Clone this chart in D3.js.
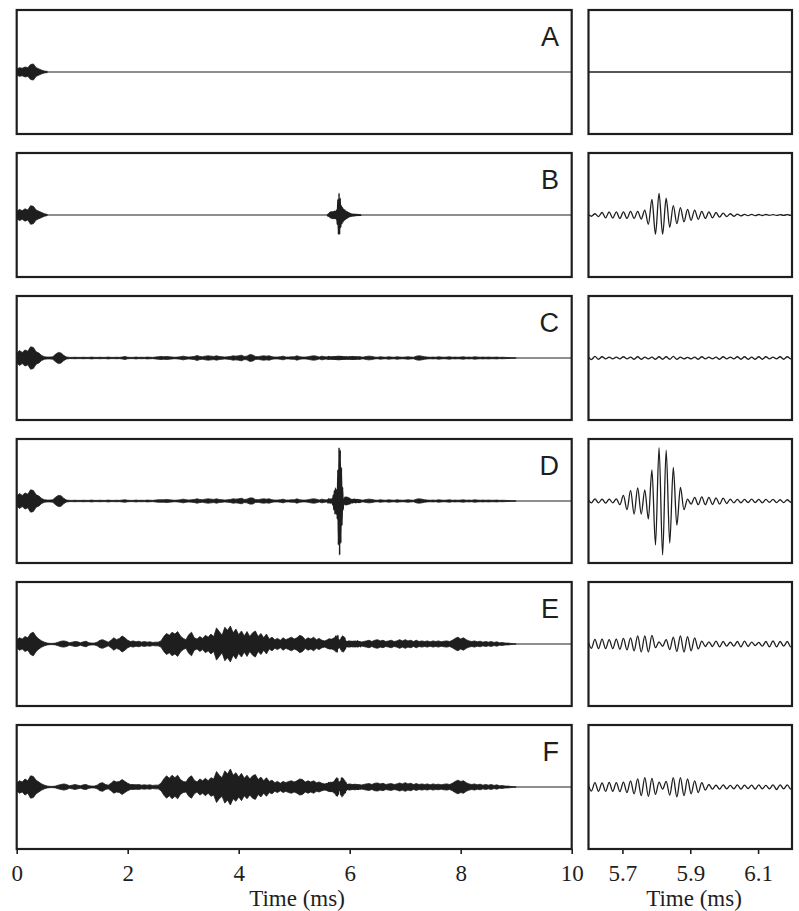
<!DOCTYPE html>
<html>
<head>
<meta charset="utf-8">
<script src="https://cdn.jsdelivr.net/npm/d3@7"></script>
<style>
  body { margin: 0; background: #fff; }
</style>
</head>
<body>
<script>
// panel letters and axis ticks
var panelNames = ['A', 'B', 'C', 'D', 'E', 'F'];
var leftTicks = [0, 2, 4, 6, 8, 10];
var rightTicks = [5.7, 5.9, 6.1];

// envelope amplitude of the full record, one value every 0.05 ms from t = 0
var envStep = 0.05;
var envA = [0.05, 0.07, 0.06, 0.08, 0.07, 0.12, 0.13, 0.07, 0.05, 0.03, 0.015, 0.01];
var envB = [0.06, 0.09, 0.07, 0.10, 0.08, 0.15, 0.14, 0.08, 0.06, 0.04, 0.02, 0.01];
var envC = [
  0.08, 0.12, 0.09, 0.13, 0.11, 0.18, 0.17, 0.10, 0.08, 0.04,
  0.02, 0.015, 0.015, 0.02, 0.06, 0.09, 0.08, 0.04, 0.015, 0.01,
  0.01, 0.012, 0.01, 0.01, 0.012, 0.01, 0.01, 0.015, 0.01, 0.01,
  0.012, 0.01, 0.01, 0.015, 0.01, 0.01, 0.012, 0.01, 0.015, 0.025,
  0.012, 0.01, 0.01, 0.015, 0.01, 0.012, 0.01, 0.015, 0.012, 0.01,
  0.015, 0.02, 0.025, 0.02, 0.025, 0.02, 0.015, 0.012, 0.015, 0.02,
  0.03, 0.02, 0.015, 0.02, 0.025, 0.04, 0.025, 0.02, 0.03, 0.035,
  0.03, 0.025, 0.035, 0.025, 0.02, 0.015, 0.02, 0.025, 0.035, 0.03,
  0.035, 0.045, 0.025, 0.03, 0.055, 0.05, 0.025, 0.02, 0.03, 0.035,
  0.03, 0.035, 0.02, 0.015, 0.015, 0.02, 0.03, 0.015, 0.015, 0.02,
  0.02, 0.035, 0.02, 0.015, 0.015, 0.02, 0.03, 0.035, 0.03, 0.015,
  0.03, 0.02, 0.015, 0.015, 0.02, 0.025, 0.03, 0.025, 0.02, 0.015,
  0.015, 0.025, 0.015, 0.012, 0.015, 0.015, 0.025, 0.03, 0.025, 0.015,
  0.012, 0.02, 0.015, 0.012, 0.02, 0.015, 0.012, 0.02, 0.015, 0.012,
  0.015, 0.02, 0.015, 0.012, 0.03, 0.035, 0.03, 0.02, 0.015, 0.012,
  0.015, 0.012, 0.02, 0.015, 0.012, 0.015, 0.02, 0.012, 0.015, 0.012,
  0.015, 0.02, 0.012, 0.015, 0.012, 0.02, 0.015, 0.012, 0.015, 0.012,
  0.015, 0.012, 0.012, 0.015, 0.01, 0.012, 0.01, 0.008, 0.006, 0.004,
  0
];
var envD = [
  0.08, 0.12, 0.09, 0.13, 0.11, 0.18, 0.17, 0.10, 0.08, 0.04,
  0.02, 0.015, 0.015, 0.02, 0.06, 0.09, 0.085, 0.04, 0.015, 0.01,
  0.01, 0.012, 0.01, 0.01, 0.012, 0.01, 0.01, 0.015, 0.01, 0.01,
  0.012, 0.01, 0.01, 0.015, 0.01, 0.01, 0.012, 0.01, 0.015, 0.02,
  0.012, 0.01, 0.01, 0.015, 0.01, 0.012, 0.01, 0.015, 0.012, 0.01,
  0.015, 0.02, 0.02, 0.02, 0.025, 0.02, 0.015, 0.012, 0.015, 0.02,
  0.03, 0.02, 0.015, 0.02, 0.025, 0.035, 0.025, 0.02, 0.03, 0.035,
  0.03, 0.025, 0.035, 0.025, 0.02, 0.015, 0.02, 0.025, 0.035, 0.03,
  0.035, 0.045, 0.025, 0.03, 0.05, 0.05, 0.025, 0.02, 0.03, 0.035,
  0.03, 0.035, 0.02, 0.015, 0.015, 0.02, 0.03, 0.015, 0.015, 0.02,
  0.02, 0.035, 0.02, 0.015, 0.015, 0.02, 0.03, 0.035, 0.03, 0.015,
  0.03, 0.02, 0.015, 0.015, 0.02, 0.025, 0.03, 0.025, 0.02, 0.015,
  0.015, 0.025, 0.015, 0.012, 0.015, 0.015, 0.025, 0.03, 0.025, 0.015,
  0.012, 0.02, 0.015, 0.012, 0.02, 0.015, 0.012, 0.02, 0.015, 0.012,
  0.015, 0.02, 0.015, 0.012, 0.03, 0.035, 0.03, 0.02, 0.015, 0.012,
  0.015, 0.012, 0.02, 0.015, 0.012, 0.015, 0.02, 0.012, 0.015, 0.012,
  0.015, 0.02, 0.012, 0.015, 0.012, 0.02, 0.015, 0.012, 0.015, 0.012,
  0.015, 0.012, 0.012, 0.015, 0.01, 0.012, 0.01, 0.008, 0.006, 0.004,
  0
];
var envE = [
  0.06, 0.10, 0.08, 0.12, 0.10, 0.17, 0.19, 0.12, 0.08, 0.05,
  0.03, 0.015, 0.01, 0.01, 0.015, 0.03, 0.045, 0.05, 0.04, 0.02,
  0.03, 0.04, 0.035, 0.02, 0.035, 0.045, 0.02, 0.015, 0.015, 0.03,
  0.06, 0.07, 0.05, 0.03, 0.06, 0.10, 0.07, 0.09, 0.13, 0.10,
  0.06, 0.04, 0.05, 0.035, 0.045, 0.03, 0.04, 0.03, 0.035, 0.025,
  0.03, 0.03, 0.05, 0.12, 0.17, 0.14, 0.19, 0.16, 0.20, 0.13,
  0.09, 0.07, 0.15, 0.19, 0.10, 0.08, 0.12, 0.09, 0.14, 0.11,
  0.16, 0.12, 0.26, 0.20, 0.14, 0.27, 0.22, 0.29, 0.18, 0.24,
  0.15, 0.21, 0.13, 0.20, 0.12, 0.18, 0.21, 0.12, 0.17, 0.10,
  0.16, 0.08, 0.11, 0.07, 0.09, 0.06, 0.10, 0.07, 0.09, 0.11,
  0.08, 0.10, 0.14, 0.12, 0.07, 0.10, 0.08, 0.11, 0.07, 0.09,
  0.06, 0.05, 0.07, 0.08, 0.06, 0.07, 0.07, 0.05, 0.06, 0.04,
  0.05, 0.04, 0.05, 0.035, 0.03, 0.04, 0.05, 0.06, 0.04, 0.06,
  0.07, 0.05, 0.06, 0.04, 0.05, 0.06, 0.04, 0.05, 0.07, 0.05,
  0.07, 0.05, 0.06, 0.04, 0.06, 0.04, 0.05, 0.04, 0.05, 0.035,
  0.05, 0.04, 0.05, 0.035, 0.045, 0.05, 0.04, 0.06, 0.09, 0.11,
  0.08, 0.10, 0.07, 0.05, 0.04, 0.05, 0.035, 0.045, 0.03, 0.04,
  0.03, 0.04, 0.025, 0.035, 0.02, 0.025, 0.015, 0.015, 0.01, 0.005,
  0
];
var envF = [
  0.06, 0.10, 0.08, 0.13, 0.10, 0.18, 0.17, 0.11, 0.08, 0.05,
  0.03, 0.015, 0.01, 0.01, 0.015, 0.03, 0.04, 0.05, 0.04, 0.02,
  0.03, 0.04, 0.03, 0.02, 0.035, 0.04, 0.02, 0.015, 0.015, 0.03,
  0.06, 0.07, 0.04, 0.03, 0.06, 0.10, 0.08, 0.09, 0.12, 0.09,
  0.06, 0.04, 0.04, 0.035, 0.04, 0.03, 0.035, 0.03, 0.035, 0.025,
  0.03, 0.03, 0.06, 0.13, 0.18, 0.14, 0.19, 0.15, 0.19, 0.12,
  0.09, 0.08, 0.15, 0.18, 0.11, 0.08, 0.13, 0.10, 0.14, 0.10,
  0.15, 0.13, 0.25, 0.19, 0.15, 0.26, 0.21, 0.29, 0.19, 0.23,
  0.16, 0.22, 0.14, 0.19, 0.13, 0.18, 0.20, 0.12, 0.16, 0.10,
  0.15, 0.09, 0.11, 0.07, 0.09, 0.06, 0.09, 0.07, 0.09, 0.10,
  0.08, 0.10, 0.13, 0.12, 0.08, 0.10, 0.08, 0.10, 0.07, 0.08,
  0.06, 0.05, 0.06, 0.07, 0.06, 0.07, 0.06, 0.05, 0.06, 0.04,
  0.05, 0.04, 0.045, 0.035, 0.03, 0.04, 0.05, 0.055, 0.04, 0.06,
  0.065, 0.05, 0.06, 0.04, 0.05, 0.055, 0.04, 0.05, 0.065, 0.05,
  0.07, 0.05, 0.06, 0.04, 0.055, 0.04, 0.05, 0.04, 0.05, 0.035,
  0.05, 0.04, 0.045, 0.035, 0.045, 0.05, 0.04, 0.06, 0.09, 0.11,
  0.09, 0.10, 0.07, 0.05, 0.04, 0.05, 0.035, 0.045, 0.03, 0.04,
  0.03, 0.04, 0.025, 0.035, 0.02, 0.025, 0.015, 0.015, 0.01, 0.005,
  0
];

// zoomed window: signed peak values, one every half cycle (0.0105 ms) from 5.598 ms
var fineStart = 5.598;
var fineStep = 0.0105;
var fineA = [];
var fineB = [
  0.015, -0.02, 0.02, -0.025,
  0.04, -0.045, 0.05, -0.05, 0.05, -0.055, 0.05, -0.055, 0.06, -0.055, 0.06, -0.065,
  0.08, -0.15, 0.25, -0.31, 0.35, -0.31, 0.27, -0.20, 0.15, -0.14,
  0.12, -0.11, 0.09, -0.085, 0.08, -0.07, 0.06, -0.055, 0.05, -0.045,
  0.04, -0.035, 0.03, -0.025, 0.02, -0.02, 0.015, -0.015,
  0.01, -0.01, 0.01, -0.01, 0.008, -0.008, 0.008, -0.006, 0.006, -0.006, 0.005, -0.005, 0.005, -0.005
];
var fineC = [
  0.025, -0.025, 0.025, -0.02, 0.02, -0.015, 0.015, -0.015, 0.015, -0.015,
  0.02, -0.015, 0.015, -0.02, 0.02, -0.02, 0.015, -0.015, 0.015, -0.02,
  0.02, -0.02, 0.02, -0.02, 0.025, -0.02, 0.015, -0.015, 0.01, -0.015,
  0.015, -0.02, 0.02, -0.015, 0.015, -0.015, 0.015, -0.02, 0.02, -0.015,
  0.015, -0.015, 0.02, -0.02, 0.02, -0.02, 0.015, -0.02, 0.02, -0.02,
  0.02, -0.015, 0.015, -0.015, 0.02, -0.02, 0.02, -0.015
];
var fineD = [
  0.03, -0.03, 0.035, -0.03, 0.03, -0.035, 0.03, -0.03, 0.035,
  -0.06,
  0.09, -0.14, 0.17, -0.21, 0.21, -0.21, 0.18, -0.29, 0.50, -0.71,
  0.86, -0.87, 0.82, -0.68, 0.54, -0.39, 0.22, -0.14, 0.03,
  -0.05, 0.06, -0.06, 0.065, -0.06, 0.06, -0.055, 0.05, -0.05, 0.045, -0.04,
  0.03, -0.03, 0.025, -0.03, 0.025, -0.025, 0.03, -0.025, 0.025, -0.03, 0.025, -0.02,
  0.025, -0.025, 0.02, -0.025, 0.02, -0.02
];
var fineE = [
  0.06, -0.07, 0.075, -0.075, 0.08, -0.075, 0.07, -0.075, 0.08, -0.085, 0.09, -0.095, 0.10,
  -0.11, 0.13, -0.13, 0.13, -0.13, 0.14,
  -0.06, 0.035, -0.035,
  0.07, -0.09, 0.11, -0.12, 0.13, -0.13, 0.12, -0.11, 0.10, -0.08,
  0.045, -0.04, 0.035, -0.04, 0.045, -0.045, 0.04, -0.035, 0.03, -0.035,
  0.04, -0.045, 0.045, -0.04, 0.03, -0.025, 0.025, -0.035, 0.04, -0.045,
  0.05, -0.045, 0.04, -0.035, 0.04, -0.045
];
var fineF = [
  0.06, -0.065, 0.07, -0.07, 0.065, -0.07, 0.075, -0.07, 0.07, -0.075, 0.08, -0.09, 0.10,
  -0.11, 0.13, -0.14, 0.15, -0.15, 0.14, -0.12, 0.08,
  -0.035,
  0.09, -0.13, 0.15, -0.16, 0.15, -0.14, 0.13, -0.11, 0.10, -0.09,
  0.07, -0.05, 0.04, -0.035,
  0.03, -0.035, 0.035, -0.03, 0.025, -0.03, 0.035, -0.035, 0.03, -0.025,
  0.03, -0.035, 0.035, -0.03, 0.025, -0.03, 0.035, -0.04, 0.035, -0.03, 0.035, -0.035
];

var envelopes = [envA, envB, envC, envD, envE, envF];
var fines = [fineA, fineB, fineC, fineD, fineE, fineF];

// layout
var width = 799;
var height = 911;
var rowTop = 10;
var rowStep = 143;
var rowH = 124;
var ink = '#1e1e1e';
var serif = '"Liberation Serif", "Times New Roman", serif';

var svg = d3
  .select('body')
  .append('svg')
  .attr('width', width)
  .attr('height', height);

var xLeft = d3.scaleLinear().domain([0, 10]).range([16.7, 571.7]);
var xRight = d3.scaleLinear().domain([5.6, 6.2]).range([588.5, 792]);
var y = d3.scaleLinear().domain([-1, 1]).range([rowH, 0]);

var nFine = 59;

panelNames.forEach(function(name, r) {
  var g = svg.append('g').attr('transform', 'translate(0,' + (rowTop + r * rowStep) + ')');

  var envData = envelopes[r].map(function(a, k) {
    return {t: k * envStep, a: a};
  });
  var fineData = d3.range(nFine).map(function(i) {
    return {t: fineStart + i * fineStep, v: fines[r][i] || 0};
  });

  // clip paths for the two panels of the row
  var clipL = 'clipL' + r;
  var clipR = 'clipR' + r;
  g.append('clipPath').attr('id', clipL)
    .append('rect')
    .attr('x', xLeft(0)).attr('y', 0)
    .attr('width', xLeft(10) - xLeft(0)).attr('height', rowH);
  g.append('clipPath').attr('id', clipR)
    .append('rect')
    .attr('x', xRight(5.6)).attr('y', 0)
    .attr('width', xRight(6.2) - xRight(5.6)).attr('height', rowH);

  // left panel: whole record
  var left = g.append('g').attr('clip-path', 'url(#' + clipL + ')');

  left.append('line')
    .attr('x1', xLeft(0)).attr('x2', xLeft(10))
    .attr('y1', y(0)).attr('y2', y(0))
    .attr('stroke', ink)
    .attr('stroke-width', 1.2);

  var area = d3.area()
    .x(function(d) { return xLeft(d.t); })
    .y0(function(d) { return y(-d.a); })
    .y1(function(d) { return y(d.a); });

  left.append('path')
    .datum(envData)
    .attr('d', area)
    .attr('fill', ink)
    .attr('stroke', ink)
    .attr('stroke-width', 0.8)
    .attr('stroke-linejoin', 'miter')
    .attr('stroke-miterlimit', 8);

  // the zoomed window is part of the record too
  if (fines[r].length) {
    var fineLineLeft = d3.line()
      .x(function(d) { return xLeft(d.t); })
      .y(function(d) { return y(d.v); })
      .curve(d3.curveMonotoneX);

    left.append('path')
      .datum(fineData)
      .attr('d', fineLineLeft)
      .attr('fill', 'none')
      .attr('stroke', ink)
      .attr('stroke-width', 1.6);
  }

  // right panel: zoomed window
  var right = g.append('g').attr('clip-path', 'url(#' + clipR + ')');

  var fineLine = d3.line()
    .x(function(d) { return xRight(d.t); })
    .y(function(d) { return y(d.v); })
    .curve(d3.curveMonotoneX);

  right.append('path')
    .datum(fineData)
    .attr('d', fineLine)
    .attr('fill', 'none')
    .attr('stroke', ink)
    .attr('stroke-width', 1.3);

  // frames
  g.append('rect')
    .attr('x', xLeft(0)).attr('y', 0)
    .attr('width', xLeft(10) - xLeft(0)).attr('height', rowH)
    .attr('fill', 'none')
    .attr('stroke', ink)
    .attr('stroke-width', 2.2);
  g.append('rect')
    .attr('x', xRight(5.6)).attr('y', 0)
    .attr('width', xRight(6.2) - xRight(5.6)).attr('height', rowH)
    .attr('fill', 'none')
    .attr('stroke', ink)
    .attr('stroke-width', 2.2);

  // panel letter
  g.append('text')
    .attr('x', 559)
    .attr('y', 36)
    .attr('text-anchor', 'end')
    .attr('font-family', '"Liberation Sans", Arial, sans-serif')
    .attr('font-size', 27)
    .attr('fill', ink)
    .text(name);
});

// bottom axes
var axisY = rowTop + 5 * rowStep + rowH;

function styleAxis(sel) {
  sel.attr('font-family', serif).attr('font-size', 23);
  sel.select('.domain').remove();
  sel.selectAll('.tick line').attr('stroke', ink).attr('stroke-width', 1.6);
  sel.selectAll('.tick text').attr('fill', ink);
}

svg.append('g')
  .attr('transform', 'translate(0,' + axisY + ')')
  .call(d3.axisBottom(xLeft).tickValues(leftTicks).tickSize(5).tickSizeOuter(0).tickPadding(11))
  .call(styleAxis);

svg.append('g')
  .attr('transform', 'translate(0,' + axisY + ')')
  .call(d3.axisBottom(xRight).tickValues(rightTicks).tickSize(5).tickSizeOuter(0).tickPadding(11)
    .tickFormat(d3.format('.1f')))
  .call(styleAxis);

// axis titles
[[297, 'Time (ms)'], [694, 'Time (ms)']].forEach(function(d) {
  svg.append('text')
    .attr('x', d[0])
    .attr('y', 906)
    .attr('text-anchor', 'middle')
    .attr('font-family', serif)
    .attr('font-size', 23)
    .attr('fill', ink)
    .text(d[1]);
});
</script>
</body>
</html>
